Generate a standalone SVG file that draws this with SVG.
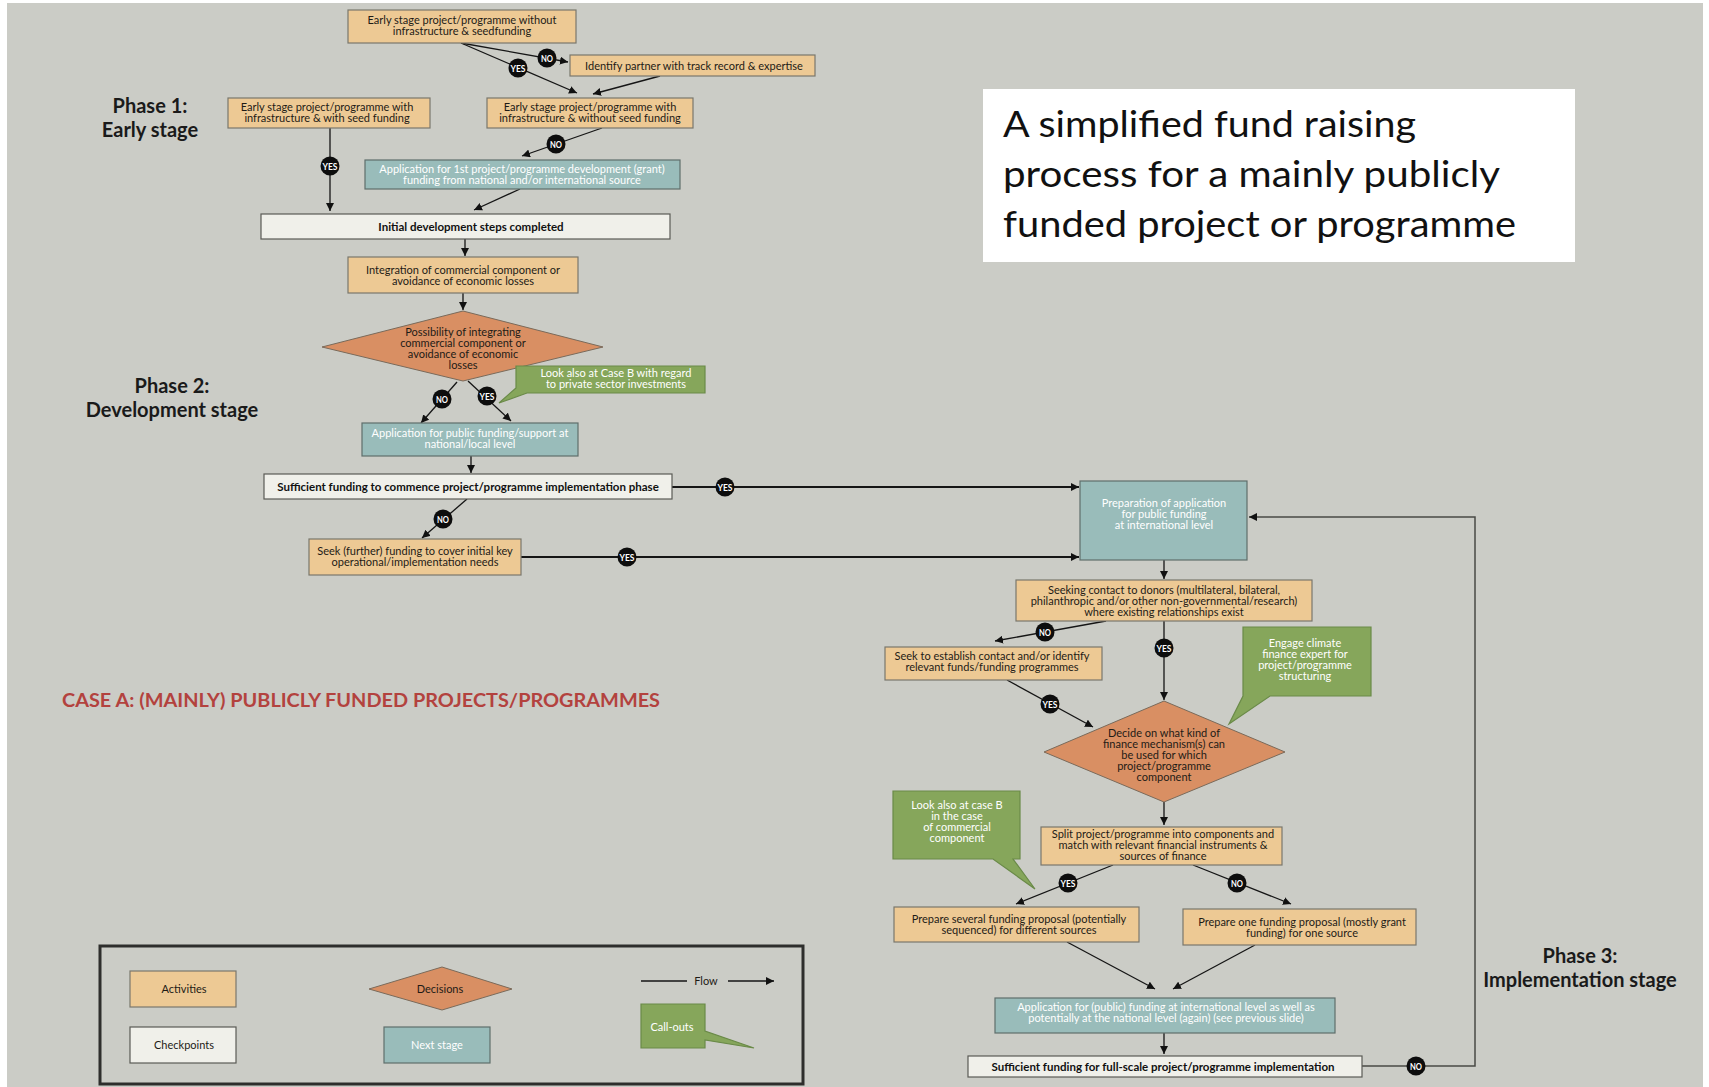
<svg xmlns="http://www.w3.org/2000/svg" width="1709" height="1087" viewBox="0 0 1709 1087">
<defs>
<marker id="ah" viewBox="0 0 10 10" refX="10" refY="5" markerWidth="8" markerHeight="8" markerUnits="userSpaceOnUse" orient="auto"><path d="M0,0 L10,5 L0,10 z" fill="#111"/></marker>
<style>
.act{fill:#EDC994;stroke:#7a776d;stroke-width:1.2}
.chk{fill:#F0F0EA;stroke:#5a5a55;stroke-width:1.2}
.nxt{fill:#99BCBA;stroke:#5f6e6c;stroke-width:1.2}
.dec{fill:#D98F63;stroke:#7a6a5a;stroke-width:1}
.cal{fill:#86A65B;stroke:#6a8a48;stroke-width:1.2}
text{font-family:Lato,"Liberation Sans",sans-serif}
.t{font-size:11px;fill:#1e1b16;text-anchor:middle}
.tw{font-size:11px;fill:#ffffff;text-anchor:middle}
.tb{font-size:11.5px;fill:#111;text-anchor:middle;font-weight:bold}
.ph{font-size:20px;fill:#1a1a1a;text-anchor:middle;font-weight:bold}
.ln{fill:none;stroke:#151515;stroke-width:1.3}
.lnt{fill:none;stroke:#151515;stroke-width:2}
.bd{fill:#0d0d0d}
.bt{font-size:9px;fill:#fff;font-weight:bold;text-anchor:middle}
</style>
</defs>
<rect x="0" y="0" width="1709" height="1087" fill="#ffffff"/>
<rect x="7" y="3" width="1696" height="1084" fill="#CBCCC6"/>

<g id="title">
<rect x="983" y="89" width="592" height="173" fill="#ffffff"/>
<text x="1003" y="137" font-family="'Open Sans',sans-serif" font-size="36" fill="#111" textLength="413" lengthAdjust="spacingAndGlyphs">A simplified fund raising</text>
<text x="1003" y="187" font-family="'Open Sans',sans-serif" font-size="36" fill="#111" textLength="497" lengthAdjust="spacingAndGlyphs">process for a mainly publicly</text>
<text x="1003" y="237" font-family="'Open Sans',sans-serif" font-size="36" fill="#111" textLength="513" lengthAdjust="spacingAndGlyphs">funded project or programme</text>
</g>

<g id="phase-labels">
<text class="ph" x="150" y="113">Phase 1:</text>
<text class="ph" x="150" y="137">Early stage</text>
<text class="ph" x="172" y="393">Phase 2:</text>
<text class="ph" x="172" y="417">Development stage</text>
<text class="ph" x="1580" y="963">Phase 3:</text>
<text class="ph" x="1580" y="987">Implementation stage</text>
<text x="62" y="707" font-size="18" fill="#B3423E" font-weight="bold" textLength="598" lengthAdjust="spacingAndGlyphs">CASE A: (MAINLY) PUBLICLY FUNDED PROJECTS/PROGRAMMES</text>
</g>

<g id="connectors">
<path class="ln" d="M461,43 L568,62" marker-end="url(#ah)"/>
<path class="ln" d="M461,43 L577,93" marker-end="url(#ah)"/>
<path class="ln" d="M660,76 L593,94" marker-end="url(#ah)"/>
<path class="ln" d="M602,128 L522,156" marker-end="url(#ah)"/>
<path class="ln" d="M330,128 L330,211" marker-end="url(#ah)"/>
<path class="ln" d="M520,189 L474,210" marker-end="url(#ah)"/>
<path class="ln" d="M465,239 L465,256" marker-end="url(#ah)"/>
<path class="ln" d="M463,293 L463,310" marker-end="url(#ah)"/>
<path class="ln" d="M457,382 L421,423" marker-end="url(#ah)"/>
<path class="ln" d="M468,381 L511,421" marker-end="url(#ah)"/>
<path class="ln" d="M471,456 L471,473" marker-end="url(#ah)"/>
<path class="lnt" d="M672,487 L1079,487" marker-end="url(#ah)"/>
<path class="ln" d="M467,499 L422,538" marker-end="url(#ah)"/>
<path class="lnt" d="M521,557 L1079,557" marker-end="url(#ah)"/>
<path class="ln" d="M1164,560 L1164,579" marker-end="url(#ah)"/>
<path class="ln" d="M1106,621 L995,641" marker-end="url(#ah)"/>
<path class="ln" d="M1164,621 L1164,700" marker-end="url(#ah)"/>
<path class="ln" d="M1007,680 L1093,727" marker-end="url(#ah)"/>
<path class="ln" d="M1164,802 L1164,825" marker-end="url(#ah)"/>
<path class="ln" d="M1113,865 L1016,904" marker-end="url(#ah)"/>
<path class="ln" d="M1193,865 L1291,904" marker-end="url(#ah)"/>
<path class="ln" d="M1067,942 L1155,989" marker-end="url(#ah)"/>
<path class="ln" d="M1255,945 L1173,989" marker-end="url(#ah)"/>
<path class="ln" d="M1164,1033 L1164,1054" marker-end="url(#ah)"/>
<path d="M1362,1066 L1475,1066 L1475,517 L1249,517" fill="none" stroke="#4a4a46" stroke-width="1.5" marker-end="url(#ah)"/>
<g id="badges">
<circle class="bd" cx="547" cy="58" r="9.5"/><text class="bt" x="547" y="61.5" textLength="12" lengthAdjust="spacingAndGlyphs">NO</text>
<circle class="bd" cx="518" cy="68" r="9.5"/><text class="bt" x="518" y="71.5" textLength="15" lengthAdjust="spacingAndGlyphs">YES</text>
<circle class="bd" cx="556" cy="144" r="9.5"/><text class="bt" x="556" y="147.5" textLength="12" lengthAdjust="spacingAndGlyphs">NO</text>
<circle class="bd" cx="330" cy="166" r="9.5"/><text class="bt" x="330" y="169.5" textLength="15" lengthAdjust="spacingAndGlyphs">YES</text>
<circle class="bd" cx="442" cy="399" r="9.5"/><text class="bt" x="442" y="402.5" textLength="12" lengthAdjust="spacingAndGlyphs">NO</text>
<circle class="bd" cx="487" cy="396" r="9.5"/><text class="bt" x="487" y="399.5" textLength="15" lengthAdjust="spacingAndGlyphs">YES</text>
<circle class="bd" cx="725" cy="487" r="9.5"/><text class="bt" x="725" y="490.5" textLength="15" lengthAdjust="spacingAndGlyphs">YES</text>
<circle class="bd" cx="443" cy="519" r="9.5"/><text class="bt" x="443" y="522.5" textLength="12" lengthAdjust="spacingAndGlyphs">NO</text>
<circle class="bd" cx="627" cy="557" r="9.5"/><text class="bt" x="627" y="560.5" textLength="15" lengthAdjust="spacingAndGlyphs">YES</text>
<circle class="bd" cx="1045" cy="632" r="9.5"/><text class="bt" x="1045" y="635.5" textLength="12" lengthAdjust="spacingAndGlyphs">NO</text>
<circle class="bd" cx="1164" cy="648" r="9.5"/><text class="bt" x="1164" y="651.5" textLength="15" lengthAdjust="spacingAndGlyphs">YES</text>
<circle class="bd" cx="1050" cy="704" r="9.5"/><text class="bt" x="1050" y="707.5" textLength="15" lengthAdjust="spacingAndGlyphs">YES</text>
<circle class="bd" cx="1068" cy="883" r="9.5"/><text class="bt" x="1068" y="886.5" textLength="15" lengthAdjust="spacingAndGlyphs">YES</text>
<circle class="bd" cx="1237" cy="883" r="9.5"/><text class="bt" x="1237" y="886.5" textLength="12" lengthAdjust="spacingAndGlyphs">NO</text>
<circle class="bd" cx="1416" cy="1066" r="9.5"/><text class="bt" x="1416" y="1069.5" textLength="12" lengthAdjust="spacingAndGlyphs">NO</text>
</g>
</g>

<g id="n1"><rect class="act" x="348" y="10" width="228" height="33"/>
<text class="t" x="462" y="24">Early stage project/programme without</text>
<text class="t" x="462" y="35">infrastructure &amp; seedfunding</text></g>
<g id="n2"><rect class="act" x="570" y="55" width="245" height="21"/>
<text class="t" x="694" y="69.5">Identify partner with track record &amp; expertise</text></g>
<g id="n3"><rect class="act" x="228" y="98" width="202" height="30"/>
<text class="t" x="327" y="111">Early stage project/programme with</text>
<text class="t" x="327" y="122">infrastructure &amp; with seed funding</text></g>
<g id="n4"><rect class="act" x="487" y="98" width="206" height="30"/>
<text class="t" x="590" y="111">Early stage project/programme with</text>
<text class="t" x="590" y="122">infrastructure &amp; without seed funding</text></g>
<g id="n5"><rect class="nxt" x="365" y="160" width="315" height="29"/>
<text class="tw" x="522" y="173">Application for 1st project/programme development (grant)</text>
<text class="tw" x="522" y="184">funding from national and/or international source</text></g>
<g id="n6"><rect class="chk" x="261" y="214" width="409" height="25"/>
<text class="tb" x="471" y="230.5">Initial development steps completed</text></g>
<g id="n7"><rect class="act" x="348" y="257" width="230" height="36"/>
<text class="t" x="463" y="274">Integration of commercial component or</text>
<text class="t" x="463" y="285">avoidance of economic losses</text></g>
<g id="d1"><polygon class="dec" points="322,347 463,311 603,347 463,381"/>
<text class="t" x="463" y="336">Possibility of integrating</text>
<text class="t" x="463" y="347">commercial component or</text>
<text class="t" x="463" y="358">avoidance of economic</text>
<text class="t" x="463" y="369">losses</text></g>
<g id="c1"><polygon class="cal" points="516,366 705,366 705,393 527,393 499,403 516,388"/>
<text class="tw" x="616" y="377">Look also at Case B with regard</text>
<text class="tw" x="616" y="388">to private sector investments</text></g>
<g id="n8"><rect class="nxt" x="362" y="423" width="216" height="33"/>
<text class="tw" x="470" y="437">Application for public funding/support at</text>
<text class="tw" x="470" y="448">national/local level</text></g>
<g id="n9"><rect class="chk" x="264" y="474" width="408" height="25"/>
<text class="tb" x="468" y="490.5">Sufficient funding to commence project/programme implementation phase</text></g>
<g id="n10"><rect class="act" x="309" y="539" width="212" height="36"/>
<text class="t" x="415" y="555">Seek (further) funding to cover initial key</text>
<text class="t" x="415" y="566">operational/implementation needs</text></g>
<g id="n11"><rect class="nxt" x="1080" y="481" width="167" height="79"/>
<text class="tw" x="1164" y="507">Preparation of application</text>
<text class="tw" x="1164" y="518">for public funding</text>
<text class="tw" x="1164" y="529">at international level</text></g>
<g id="n12"><rect class="act" x="1016" y="580" width="296" height="41"/>
<text class="t" x="1164" y="594">Seeking contact to donors (multilateral, bilateral,</text>
<text class="t" x="1164" y="605">philanthropic and/or other non-governmental/research)</text>
<text class="t" x="1164" y="616">where existing relationships exist</text></g>
<g id="n13"><rect class="act" x="885" y="647" width="217" height="33"/>
<text class="t" x="992" y="660">Seek to establish contact and/or identify</text>
<text class="t" x="992" y="671">relevant funds/funding programmes</text></g>
<g id="c2"><polygon class="cal" points="1243,627 1371,627 1371,696 1270,696 1229,724 1243,696"/>
<text class="tw" x="1305" y="647">Engage climate</text>
<text class="tw" x="1305" y="658">finance expert for</text>
<text class="tw" x="1305" y="669">project/programme</text>
<text class="tw" x="1305" y="680">structuring</text></g>
<g id="d2"><polygon class="dec" points="1044,752 1164,701 1285,752 1164,802"/>
<text class="t" x="1164" y="737">Decide on what kind of</text>
<text class="t" x="1164" y="748">finance mechanism(s) can</text>
<text class="t" x="1164" y="759">be used for which</text>
<text class="t" x="1164" y="770">project/programme</text>
<text class="t" x="1164" y="781">component</text></g>
<g id="c3"><polygon class="cal" points="893,791 1020,791 1020,859 1013,859 1035,889 993,859 893,859"/>
<text class="tw" x="957" y="809">Look also at case B</text>
<text class="tw" x="957" y="820">in the case</text>
<text class="tw" x="957" y="831">of commercial</text>
<text class="tw" x="957" y="842">component</text></g>
<g id="n14"><rect class="act" x="1041" y="827" width="241" height="38"/>
<text class="t" x="1163" y="837.5">Split project/programme into components and</text>
<text class="t" x="1163" y="848.5">match with relevant financial instruments &amp;</text>
<text class="t" x="1163" y="859.5">sources of finance</text></g>
<g id="n15"><rect class="act" x="894" y="907" width="245" height="35"/>
<text class="t" x="1019" y="923">Prepare several funding proposal (potentially</text>
<text class="t" x="1019" y="934">sequenced) for different sources</text></g>
<g id="n16"><rect class="act" x="1183" y="909" width="233" height="36"/>
<text class="t" x="1302" y="926">Prepare one funding proposal (mostly grant</text>
<text class="t" x="1302" y="937">funding) for one source</text></g>
<g id="n17"><rect class="nxt" x="995" y="998" width="340" height="35"/>
<text class="tw" x="1166" y="1011">Application for (public) funding at international level as well as</text>
<text class="tw" x="1166" y="1022">potentially at the national level (again) (see previous slide)</text></g>
<g id="n18"><rect class="chk" x="968" y="1056" width="394" height="21"/>
<text class="tb" x="1163" y="1070.5">Sufficient funding for full-scale project/programme implementation</text></g>

<g id="legend">
<rect x="100" y="946" width="703" height="138" fill="none" stroke="#2e2e2c" stroke-width="3"/>
<rect class="act" x="130" y="971" width="106" height="36"/>
<text class="t" x="184" y="993">Activities</text>
<rect class="chk" x="130" y="1027" width="106" height="36"/>
<text class="t" x="184" y="1049">Checkpoints</text>
<polygon class="dec" points="369,989 442,967 512,989 442,1010"/>
<text class="t" x="440" y="992.5">Decisions</text>
<rect class="nxt" x="384" y="1027" width="106" height="36"/>
<text class="tw" x="437" y="1049">Next stage</text>
<path class="ln" d="M641,981 L687,981"/>
<text class="t" x="706" y="984.5">Flow</text>
<path class="ln" d="M728,981 L774,981" marker-end="url(#ah)"/>
<polygon class="cal" points="641,1004 705,1004 705,1031 754,1048 705,1040 705,1048 641,1048"/>
<text class="tw" x="672" y="1031">Call-outs</text>
</g>
</svg>
